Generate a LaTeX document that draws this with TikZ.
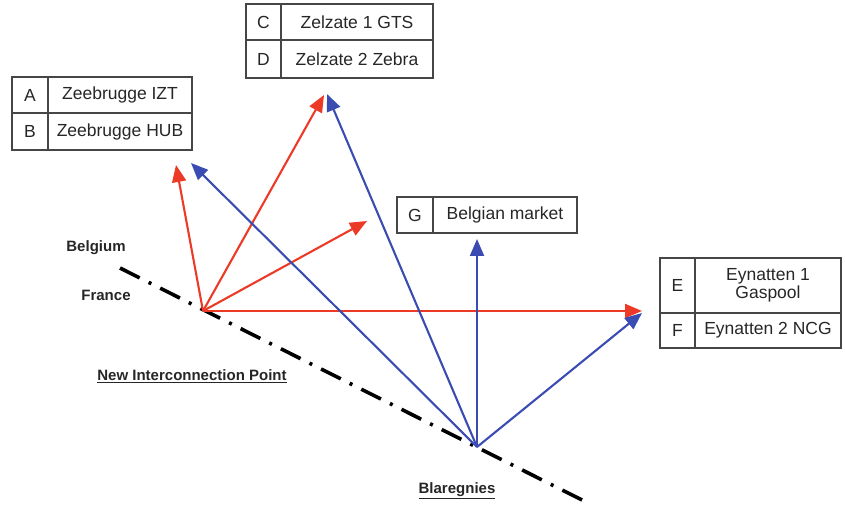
\documentclass[tikz,border=0pt]{standalone}
\usepackage{fontspec}
\setmainfont{Liberation Sans}
\usetikzlibrary{arrows.meta}
\definecolor{flowred}{RGB}{236,58,38}
\definecolor{flowblue}{RGB}{58,76,178}
\definecolor{boxgray}{RGB}{70,70,70}
\tikzset{
  cell/.style={draw=boxgray, line width=1.3pt, inner sep=0pt, align=center,
    font=\fontsize{17.5}{18}\selectfont, text=black!85},
  lbl/.style={font=\fontsize{15}{16}\selectfont\bfseries, text=black!85, inner sep=0pt},
  redarrow/.style={draw=flowred, line width=2.1pt, -{Triangle[length=17pt,width=14pt]}},
  bluearrow/.style={draw=flowblue, line width=2.1pt, -{Triangle[length=17pt,width=14pt]}},
  border/.style={draw=black, line width=3.6pt, dash pattern=on 22pt off 10pt on 3pt off 10pt}
}
\begin{document}
\begin{tikzpicture}[x=1pt,y=-1pt]
\useasboundingbox (0,0) rectangle (845,510);
% border line
\coordinate (bs) at (120,268);
\coordinate (be) at (588,503);
\draw[border] (bs) -- (be);
% origins
\coordinate (nip) at (203,311);
\coordinate (bla) at (477,447);
% tips
\coordinate (tA) at (176,165);
\coordinate (tC) at (324,95);
\coordinate (tG1) at (367,221);
\coordinate (tE1) at (642,311);
\coordinate (tB) at (191,163);
\coordinate (tD) at (327,94);
\coordinate (tG) at (477,239);
\coordinate (tF) at (642,313);
\draw[redarrow] (nip) -- (tA);
\draw[redarrow] (nip) -- (tC);
\draw[redarrow] (nip) -- (tG1);
\draw[redarrow] (nip) -- (tE1);
\draw[bluearrow] (bla) -- (tB);
\draw[bluearrow] (bla) -- (tD);
\draw[bluearrow] (bla) -- (tG);
\draw[bluearrow] (bla) -- (tF);
% boxes A/B
\node[cell, minimum width=36pt, minimum height=36pt] (A) at (30,95) {A};
\node[cell, minimum width=144pt, minimum height=36pt] (An) at (120,95) {Zeebrugge IZT};
\node[cell, minimum width=36pt, minimum height=37pt] (B) at (30,131.5) {B};
\node[cell, minimum width=144pt, minimum height=37pt] (Bn) at (120,131.5) {Zeebrugge HUB};
% boxes C/D
\node[cell, minimum width=35pt, minimum height=36pt] (C) at (263.5,22) {C};
\node[cell, minimum width=152pt, minimum height=36pt] (Cn) at (357,22) {Zelzate 1 GTS};
\node[cell, minimum width=35pt, minimum height=38pt] (D) at (263.5,59) {D};
\node[cell, minimum width=152pt, minimum height=38pt] (Dn) at (357,59) {Zelzate 2 Zebra};
% box G
\node[cell, minimum width=36pt, minimum height=36pt] (G) at (415,215) {G};
\node[cell, minimum width=144pt, minimum height=36pt] (Gn) at (505,215) {Belgian market};
% boxes E/F
\node[cell, minimum width=35pt, minimum height=55pt] (E) at (677.5,285.5) {E};
\node[cell, minimum width=146pt, minimum height=55pt] (En) at (768,285.5) {Eynatten 1\\Gaspool};
\node[cell, minimum width=35pt, minimum height=35pt] (F) at (677.5,330.5) {F};
\node[cell, minimum width=146pt, minimum height=35pt] (Fn) at (768,330.5) {Eynatten 2 NCG};
% labels
\node[lbl] (belgium) at (96,248) {Belgium};
\node[lbl] (france) at (106,295) {France};
\node[lbl] (niplbl) at (192,376) {\underline{New Interconnection Point}};
\node[lbl] (blalbl) at (457,491) {\underline{Blaregnies}};
\end{tikzpicture}
\end{document}
